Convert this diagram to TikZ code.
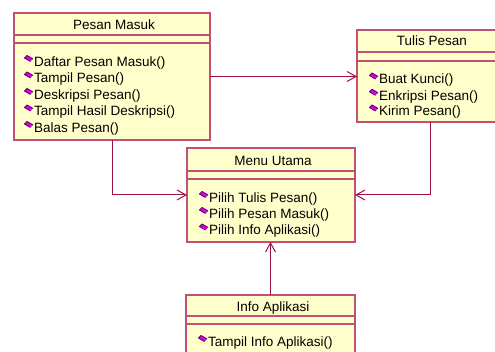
\documentclass[tikz,border=0pt]{standalone}
\usepackage{fontspec}
\setmainfont{Liberation Sans}
\usetikzlibrary{arrows.meta}
\definecolor{boxline}{RGB}{192,80,120}
\definecolor{connline}{RGB}{160,16,72}
\definecolor{boxfill}{RGB}{255,255,204}
\definecolor{icfill}{RGB}{230,0,230}
\definecolor{icline}{RGB}{90,0,110}
\tikzset{
  classbox/.style={draw=boxline, fill=boxfill, line width=1.2pt, inner sep=0pt, outer sep=0pt, anchor=north west},
  sepline/.style={draw=boxline, line width=1.2pt},
  connector/.style={draw=connline, line width=1pt, -{Straight Barb[length=9pt,width=10pt,line width=1pt]}},
  classtitle/.style={anchor=base, inner sep=0pt},
  optext/.style={anchor=base west, inner sep=0pt},
  opicon/.pic={
    \fill[icfill] (0,0) -- (2.5,-2.5) -- (8.5,1) -- (6,3.5) -- cycle;
    \draw[icline, line width=0.9pt, line join=round] (6,3.5) -- (0,0) -- (2.5,-2.5) -- (8.5,1);
  }
}
\begin{document}
\begin{tikzpicture}[x=1pt, y=-1pt, font=\fontsize{13.5}{16}\selectfont]
\useasboundingbox (0,0) rectangle (495,352);
\clip (0,0) rectangle (495,352);
\fill[white] (0,0) rectangle (495,352);

% Pesan Masuk
\node[classbox, minimum width=196pt, minimum height=127pt] (pm) at (14,13) {};
\draw[sepline] (14,35) -- (210,35);
\draw[sepline] (14,43) -- (210,43);
\node[classtitle] (pmt) at (114,30) {Pesan Masuk};
\node[optext] (pm1) at (34,66.5) {Daftar Pesan Masuk()};
\node[optext] (pm2) at (34,83) {Tampil Pesan()};
\node[optext] (pm3) at (34,99.5) {Deskripsi Pesan()};
\node[optext] (pm4) at (34,116) {Tampil Hasil Deskripsi()};
\node[optext] (pm5) at (34,132.5) {Balas Pesan()};
\foreach \yy in {66.5,83,99.5,116,132.5} \pic at (24.5,\yy-8.5) {opicon};

% Tulis Pesan
\node[classbox, minimum width=152pt, minimum height=92pt] (tp) at (357,30) {};
\draw[sepline] (357,52) -- (509,52);
\draw[sepline] (357,61) -- (509,61);
\node[classtitle] (tpt) at (432,46) {Tulis Pesan};
\node[optext] (tp1) at (379,84) {Buat Kunci()};
\node[optext] (tp2) at (379,100.3) {Enkripsi Pesan()};
\node[optext] (tp3) at (379,116) {Kirim Pesan()};
\foreach \yy in {84,100.3,116} \pic at (369.5,\yy-8.5) {opicon};
\coordinate (tpout) at (430,122);

% Menu Utama
\node[classbox, minimum width=168pt, minimum height=94pt] (mu) at (187,148) {};
\draw[sepline] (187,171) -- (355,171);
\draw[sepline] (187,179) -- (355,179);
\node[classtitle] (mut) at (273,166) {Menu Utama};
\node[optext] (mu1) at (209,202.5) {Pilih Tulis Pesan()};
\node[optext] (mu2) at (209,218.5) {Pilih Pesan Masuk()};
\node[optext] (mu3) at (209,235) {Pilih Info Aplikasi()};
\foreach \yy in {202.5,218.5,235} \pic at (199.5,\yy-8.5) {opicon};

% Info Aplikasi
\node[classbox, minimum width=169pt, minimum height=70pt] (ia) at (186,295) {};
\draw[sepline] (186,316) -- (355,316);
\draw[sepline] (186,324) -- (355,324);
\node[classtitle] (iat) at (273,311.5) {Info Aplikasi};
\node[optext] (ia1) at (208,346.5) {Tampil Info Aplikasi()};
\pic at (198.5,338) {opicon};

% connectors
\draw[connector] (pm.east) -- (pm.east -| tp.west);
\draw[connector] (pm.south) |- (mu.west);
\draw[connector] (tpout) |- (mu.east);
\draw[connector] (ia.north) -- (ia.north |- mu.south);
\end{tikzpicture}
\end{document}
